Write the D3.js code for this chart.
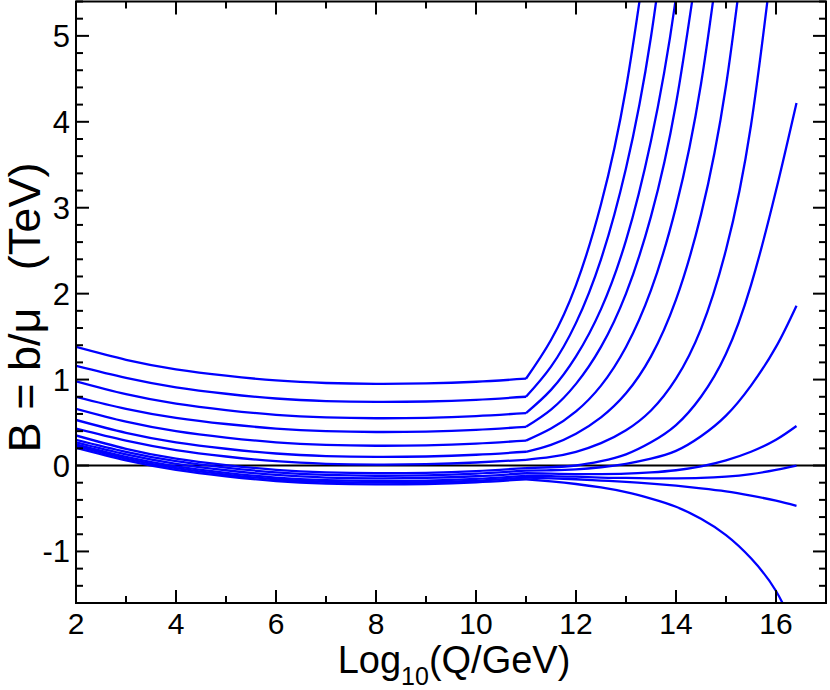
<!DOCTYPE html>
<html>
<head>
<meta charset="utf-8">
<script src="https://cdn.jsdelivr.net/npm/d3@7"></script>
<style>
  body { margin: 0; background: #fff; }
  text { font-family: "Liberation Sans", Arial, sans-serif; fill: #000; }
</style>
</head>
<body>
<div class="bChart"></div>
<script>
// Q grid below and above the kink at Log10(Q) = 11
const lowQ = [2, 3, 4, 5, 6, 7, 8, 9, 10, 11];
const highQ = [11, 11.5, 12, 12.5, 13, 13.5, 14, 14.5, 15, 15.5, 16, 16.41];

// B values (TeV), one row per curve, top curve first
const lowB = [
  [1.38, 1.23, 1.12, 1.045, 0.99, 0.96, 0.95, 0.955, 0.975, 1.01],
  [1.16, 1.02, 0.91, 0.835, 0.78, 0.75, 0.74, 0.745, 0.765, 0.80],
  [0.98, 0.83, 0.72, 0.645, 0.59, 0.56, 0.55, 0.555, 0.575, 0.61],
  [0.80, 0.66, 0.555, 0.483, 0.43, 0.40, 0.39, 0.395, 0.415, 0.45],
  [0.66, 0.51, 0.40, 0.325, 0.27, 0.24, 0.23, 0.235, 0.255, 0.29],
  [0.53, 0.38, 0.27, 0.195, 0.14, 0.11, 0.10, 0.105, 0.125, 0.16],
  [0.43, 0.29, 0.18, 0.105, 0.05, 0.02, 0.01, 0.015, 0.035, 0.066],
  [0.35, 0.195, 0.08, 0.005, -0.05, -0.08, -0.09, -0.085, -0.065, -0.03],
  [0.30, 0.16, 0.05, -0.025, -0.08, -0.11, -0.12, -0.115, -0.095, -0.06],
  [0.27, 0.13, 0.02, -0.055, -0.11, -0.14, -0.15, -0.145, -0.125, -0.09],
  [0.245, 0.10, -0.01, -0.085, -0.14, -0.17, -0.18, -0.175, -0.155, -0.12],
  [0.225, 0.08, -0.03, -0.105, -0.16, -0.19, -0.20, -0.195, -0.175, -0.14],
  [0.205, 0.06, -0.05, -0.125, -0.18, -0.21, -0.22, -0.215, -0.195, -0.16]
];

// rows stop once the curve has left the top of the frame
const highB = [
  [1.01, 1.46, 2.10, 3.04, 4.39, 6.35],
  [0.80, 1.15, 1.66, 2.40, 3.46, 4.99, 7.2],
  [0.61, 0.88, 1.27, 1.82, 2.62, 3.78, 5.45, 7.86],
  [0.45, 0.65, 0.95, 1.38, 2.0, 2.90, 4.21, 6.12],
  [0.29, 0.43, 0.63, 0.93, 1.38, 2.04, 3.01, 4.44, 6.55],
  [0.16, 0.24, 0.37, 0.56, 0.84, 1.27, 1.93, 2.92, 4.42, 6.70],
  [0.066, 0.10, 0.16, 0.26, 0.41, 0.64, 1.01, 1.59, 2.51, 3.96, 6.24],
  [-0.03, -0.02, 0.0, 0.05, 0.13, 0.27, 0.47, 0.80, 1.30, 2.10, 3.2, 4.22],
  [-0.06, -0.055, -0.045, -0.02, 0.02, 0.08, 0.17, 0.34, 0.58, 0.93, 1.38, 1.86],
  [-0.09, -0.095, -0.10, -0.10, -0.095, -0.08, -0.055, -0.01, 0.06, 0.16, 0.30, 0.46],
  [-0.12, -0.125, -0.13, -0.14, -0.145, -0.15, -0.15, -0.145, -0.13, -0.10, -0.05, 0.0],
  [-0.14, -0.15, -0.16, -0.175, -0.19, -0.21, -0.235, -0.265, -0.30, -0.35, -0.41, -0.47],
  [-0.16, -0.185, -0.215, -0.255, -0.31, -0.385, -0.48, -0.62, -0.81, -1.08, -1.46, -1.95]
];

const xTicks = [2, 4, 6, 8, 10, 12, 14, 16];
const yTicks = [-1, 0, 1, 2, 3, 4, 5];

const margin = ({top: 1.5, right: 4, bottom: 87, left: 76});
const width = 830 - margin.left - margin.right;
const height = 690 - margin.top - margin.bottom;

const svg = d3.select('.bChart')
              .append('svg')
              .attr('width', 830)
              .attr('height', 690)
              .append('g')
              .attr('transform', `translate(${margin.left}, ${margin.top})`);

const xScale = d3.scaleLinear().domain([2, 17]).range([0, width]);
const yScale = d3.scaleLinear().domain([-1.6, 5.4]).range([height, 0]);

svg.append('clipPath')
    .attr('id', 'plotClip')
    .append('rect')
    .attr('width', width)
    .attr('height', height);

// zero line
svg.append('line')
    .attr('x1', 0).attr('x2', width)
    .attr('y1', yScale(0)).attr('y2', yScale(0))
    .attr('stroke', '#000')
    .attr('stroke-width', 2);

const line = d3.line()
               .x(d => xScale(d[0]))
               .y(d => yScale(d[1]))
               .curve(d3.curveNatural);

const curves = svg.append('g').attr('clip-path', 'url(#plotClip)');

lowB.forEach((row, i) => {
    const lowPts = row.map((b, j) => [lowQ[j], b]);
    const highPts = highB[i].map((b, j) => [highQ[j], b]);
    [lowPts, highPts].forEach(pts => {
        curves.append('path')
            .attr('d', line(pts))
            .attr('fill', 'none')
            .attr('stroke', '#0000ff')
            .attr('stroke-width', 2.3);
    });
});

// frame + inward ticks on all four sides
const frame = svg.append('g').attr('stroke', '#000').attr('stroke-width', 2);

d3.range(2, 17.01, 1).forEach(v => {
    const len = v % 2 === 0 ? 13 : 7;
    frame.append('line').attr('x1', xScale(v)).attr('x2', xScale(v))
         .attr('y1', height).attr('y2', height - len);
    frame.append('line').attr('x1', xScale(v)).attr('x2', xScale(v))
         .attr('y1', 0).attr('y2', len);
});

d3.range(-1.6, 5.41, 0.2).forEach(v => {
    const major = Math.abs(v - Math.round(v)) < 1e-6;
    const len = major ? 13 : 7;
    frame.append('line').attr('x1', 0).attr('x2', len)
         .attr('y1', yScale(v)).attr('y2', yScale(v));
    frame.append('line').attr('x1', width).attr('x2', width - len)
         .attr('y1', yScale(v)).attr('y2', yScale(v));
});

frame.append('rect')
     .attr('width', width)
     .attr('height', height)
     .attr('fill', 'none');

// tick labels
svg.selectAll('.xlab')
    .data(xTicks)
    .enter()
    .append('text')
    .attr('x', d => xScale(d))
    .attr('y', height + 31)
    .attr('text-anchor', 'middle')
    .attr('font-size', 30)
    .text(d => d);

svg.selectAll('.ylab')
    .data(yTicks)
    .enter()
    .append('text')
    .attr('x', -6)
    .attr('y', d => yScale(d) + 11)
    .attr('text-anchor', 'end')
    .attr('font-size', 31)
    .text(d => d);

// axis titles
const xTitle = svg.append('text')
    .attr('x', width / 2 + 3)
    .attr('y', height + 70)
    .attr('text-anchor', 'middle')
    .attr('font-size', 38);
xTitle.append('tspan').text('Log');
xTitle.append('tspan').attr('font-size', 25).attr('dy', 12).text('10');
xTitle.append('tspan').attr('dy', -12).text('(Q/GeV)');

svg.append('text')
    .attr('transform', `translate(${-36}, ${306}) rotate(-90)`)
    .attr('text-anchor', 'middle')
    .attr('font-size', 45)
    .attr('xml:space', 'preserve')
    .text('B = b/\u03bc   (TeV)');
</script>
</body>
</html>
